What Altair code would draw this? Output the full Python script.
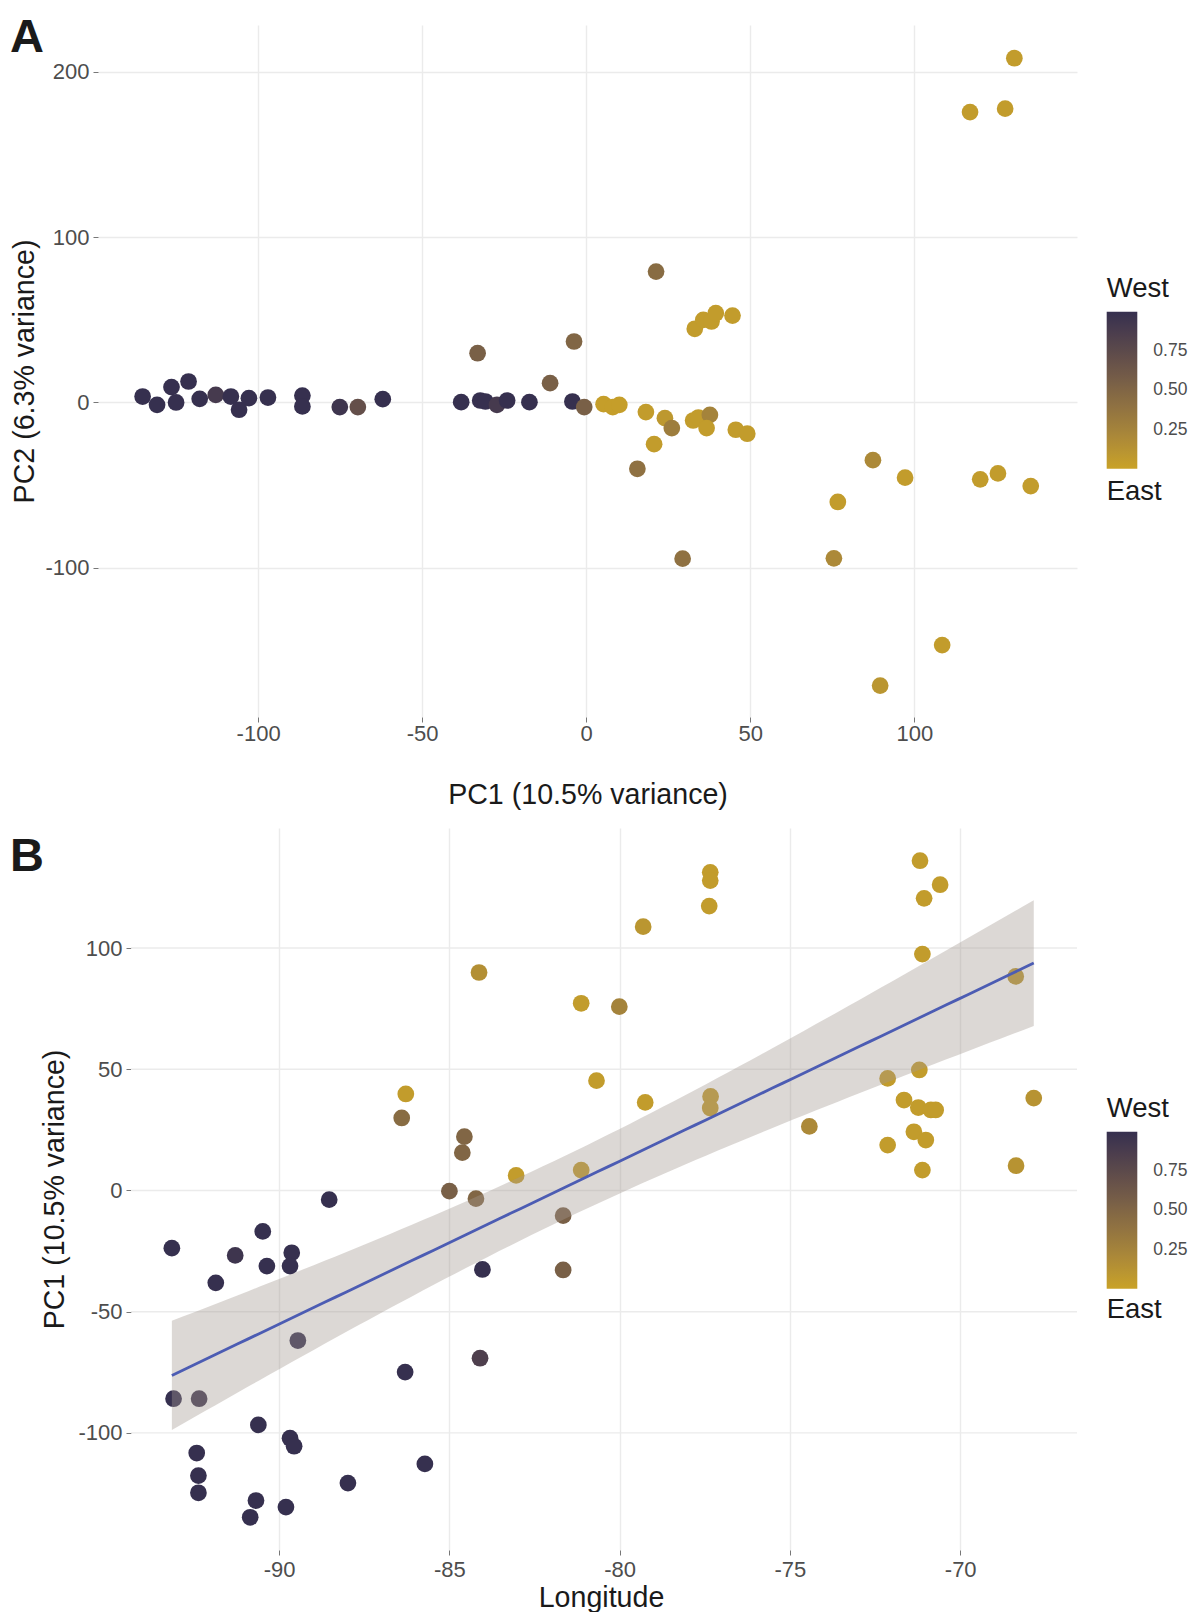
import altair as alt
import pandas as pd
import numpy as np

# ---------------- Panel A data (PCA) ----------------
pc1_a = [-135.2, -130.8, -126.4, -125.0, -121.2, -117.8, -112.9, -108.3, -105.8, -102.8,
         -97.0, -86.5, -86.5, -75.1, -69.6, -62.0,
         -38.1, -33.1, -32.3, -30.7, -27.2, -24.1, -17.3, -11.0, -3.7, -4.2, -0.6,
         5.3, 8.1, 10.1, 18.2, 24.0, 26.1, 20.7, 15.6, 32.6, 34.2, 37.7, 36.7, 45.6, 49.1, 29.4, 21.3,
         33.1, 35.7, 38.2, 39.5, 44.6,
         130.5, 117.0, 127.7, 87.4, 97.2, 120.1, 125.5, 135.5, 76.7, 75.5, 108.5, 89.6]
pc2_a = [3.6, -1.4, 9.3, 0.0, 12.7, 2.2, 4.6, 3.6, -4.4, 2.6,
         3.0, 4.2, -2.4, -2.8, -2.8, 2.0,
         0.2, 29.8, 1.2, 0.6, -1.4, 1.2, 0.2, 11.7, 36.9, 0.6, -2.8,
         -1.0, -2.8, -1.4, -5.8, -9.5, -15.5, -25.2, -40.1, -10.9, -9.1, -7.5, -15.5, -16.5, -18.9, -94.5, 79.2,
         44.6, 50.0, 49.0, 54.0, 52.6,
         208.3, 175.7, 177.8, -34.9, -45.5, -46.5, -42.9, -50.6, -60.2, -94.3, -146.8, -171.3]
west_a = [1, 1, 1, 1, 1, 1, 0.9, 1, 1, 1,
          1, 1, 1, 0.95, 0.7, 1,
          1, 0.55, 1, 1, 0.9, 1, 1, 0.55, 0.5, 1, 0.55,
          0.03, 0.03, 0.03, 0.05, 0.08, 0.3, 0.05, 0.4, 0.05, 0.05, 0.25, 0.05, 0.05, 0.05, 0.4, 0.45,
          0.05, 0.05, 0.05, 0.05, 0.05,
          0.05, 0.05, 0.05, 0.2, 0.05, 0.05, 0.05, 0.05, 0.05, 0.2, 0.05, 0.1]

# ---------------- Panel B data (PC1 vs longitude) ----------------
lon_b = [-93.15, -90.48, -91.29, -90.36, -89.63, -89.68, -91.86, -88.53, -89.45, -86.30,
         -84.10, -84.03, -85.00, -84.22, -84.62, -83.04, -93.10, -92.35, -90.61, -89.68,
         -89.56, -92.42, -92.37, -92.37, -90.68, -90.85, -89.80, -87.98, -85.72,
         -84.13, -86.28, -86.40, -84.56, -81.13, -80.01, -79.31, -80.68, -79.25, -81.13,
         -81.66, -81.66, -77.34, -77.34, -77.37, -77.33, -77.34,
         -71.18, -70.59, -71.06, -71.11, -68.37, -74.43, -72.13, -71.20, -71.65, -71.23,
         -70.86, -70.72, -71.36, -71.01, -72.13, -71.11, -67.84, -68.36]
pc1_b = [-23.8, -16.9, -26.8, -31.2, -25.7, -31.2, -38.1, -3.8, -61.9, -74.9,
         -69.2, -32.6, -0.3, -3.4, 15.6, 6.2, -85.9, -85.9, -96.7, -102.2,
         -105.5, -108.3, -117.6, -124.7, -127.9, -134.8, -130.6, -120.7, -112.8,
         89.9, 39.8, 29.9, 22.2, 77.2, 75.8, 108.8, 45.3, 36.3, 8.4,
         -10.4, -32.8, 131.2, 127.8, 117.3, 38.8, 34.0,
         136.0, 126.1, 120.5, 97.5, 88.3, 26.4, 46.2, 49.7, 37.3, 34.2,
         33.2, 33.2, 24.2, 20.8, 18.7, 8.4, 38.1, 10.2]
west_b = [1, 1, 0.95, 1, 1, 1, 1, 1, 1, 1,
          0.85, 1, 0.55, 0.5, 0.5, 0.05, 1, 0.95, 1, 1,
          1, 1, 1, 1, 1, 1, 1, 1, 1,
          0.15, 0.05, 0.45, 0.5, 0.05, 0.25, 0.1, 0.05, 0.05, 0.05,
          0.55, 0.55, 0.05, 0.05, 0.05, 0.05, 0.05,
          0.05, 0.05, 0.05, 0.05, 0.1, 0.2, 0.05, 0.05, 0.05, 0.05,
          0.05, 0.05, 0.05, 0.05, 0.05, 0.05, 0.12, 0.12]

ticks_a_x = [-100, -50, 0, 50, 100]
ticks_a_y = [-100, 0, 100, 200]
ticks_b_x = [-90, -85, -80, -75, -70]
ticks_b_y = [-100, -50, 0, 50, 100]
legend_values = [0.25, 0.5, 0.75]

df_a = pd.DataFrame({"pc1": pc1_a, "pc2": pc2_a, "west": west_a})
df_b = pd.DataFrame({"lon": lon_b, "pc1": pc1_b, "west": west_b})
df_bgrid = pd.DataFrame({"v": ticks_b_y})

# linear fit + 95% confidence band (derived from the data)
x = np.array(lon_b)
y = np.array(pc1_b)
n = len(x)
slope, intercept = np.polyfit(x, y, 1)
resid = y - (slope * x + intercept)
s = np.sqrt(np.sum(resid ** 2) / (n - 2))
sxx = np.sum((x - x.mean()) ** 2)
tval = 1.999
grid = np.linspace(x.min(), x.max(), 80)
fit = slope * grid + intercept
se = s * np.sqrt(1.0 / n + (grid - x.mean()) ** 2 / sxx)
df_fit = pd.DataFrame({"lon": grid, "fit": fit, "lo": fit - tval * se, "hi": fit + tval * se})

GOLD = "#c9a227"
NAVY = "#36304f"
FONT = "Liberation Sans"
GRID = "#ebebeb"

W = 979            # both panels share the plot origin; panel B is inset on the left
B_INSET = 33
A_H, B_H = 692, 722
TOP_PAD = 5


def axis(values, title, grid=True, **kw):
    return alt.Axis(values=values, title=title, labelExpr="'' + datum.value",
                    labelFont=FONT, labelFontSize=22, labelColor="#4d4d4d",
                    titleFont=FONT, titleFontSize=28.6, titleColor="#1a1a1a",
                    titleFontWeight="normal", domain=False, ticks=True,
                    tickColor="#777777", tickSize=5, tickWidth=1,
                    grid=grid, gridColor=GRID, gridWidth=1.4, **kw)


def legend(lx, ly):
    return alt.Legend(title="West", orient="none", legendX=lx, legendY=ly,
                      direction="vertical", gradientLength=157, gradientThickness=30.6,
                      gradientStrokeWidth=0, values=legend_values, format=".2f",
                      labelOffset=16, labelFont=FONT, labelFontSize=17.5,
                      labelColor="#4d4d4d", titleFont=FONT, titleFontSize=27.5,
                      titleFontWeight="normal", titleColor="#1a1a1a", titlePadding=9.6,
                      padding=0, labelOverlap=False)


def color(lx, ly):
    return alt.Color("west:Q",
                     scale=alt.Scale(domain=[0, 1], range=[GOLD, NAVY], interpolate="lab"),
                     legend=legend(lx, ly))


def label_text(txt, xv, yv, size, bold=False, baseline="top"):
    return alt.Chart(pd.DataFrame({"t": [txt]})).mark_text(
        align="left", baseline=baseline, font=FONT, fontSize=size,
        fontWeight="bold" if bold else "normal", color="#1a1a1a"
    ).encode(text="t:N", x=alt.value(xv), y=alt.value(yv))


# ---------------- Panel A ----------------
pts_a = alt.Chart(df_a).mark_circle(size=280, opacity=1).encode(
    x=alt.X("pc1:Q", scale=alt.Scale(domain=[-148.8, 149.6], nice=False, zero=False),
            axis=axis(ticks_a_x, "PC1 (10.5% variance)", labelPadding=1.5,
                      titleX=W / 2, titleY=86, titleBaseline="alphabetic")),
    y=alt.Y("pc2:Q", scale=alt.Scale(domain=[-190.3, 228.4], nice=False, zero=False),
            axis=axis(ticks_a_y, "PC2 (6.3% variance)", labelPadding=4,
                      titleX=-74, titleY=A_H / 2, titleBaseline="middle")),
    color=color(1008.7, 249.7),
)
chart_a = alt.layer(
    pts_a,
    label_text("A", -88, TOP_PAD - 15.3, 47, bold=True),
    label_text("East", 1008.7, 474.7, 27.5, baseline="alphabetic"),
).properties(width=W, height=A_H)

# ---------------- Panel B ----------------
xb_scale = alt.Scale(domain=[-94.35, -66.57], range=[B_INSET, W], nice=False, zero=False)
yb_scale = alt.Scale(domain=[-148.3, 149.5], nice=False, zero=False)

hgrid_b = alt.Chart(df_bgrid).mark_rule(color=GRID, strokeWidth=1.4).encode(
    y=alt.Y("v:Q", scale=yb_scale), x=alt.value(B_INSET), x2=alt.value(W))
pts_b = alt.Chart(df_b).mark_circle(size=280, opacity=1).encode(
    x=alt.X("lon:Q", scale=xb_scale,
            axis=axis(ticks_b_x, "Longitude", labelPadding=4.5,
                      titleX=B_INSET + (W - B_INSET) / 2 - 3,
                      titleY=56, titleBaseline="alphabetic")),
    y=alt.Y("pc1:Q", scale=yb_scale,
            axis=axis(ticks_b_y, "PC1 (10.5% variance)", grid=False, offset=-B_INSET,
                      labelPadding=4, titleX=-77, titleY=B_H / 2, titleBaseline="middle")),
    color=color(1008.7, 266.7),
)
band_b = alt.Chart(df_fit).mark_area(color="#a39890", opacity=0.38).encode(
    x=alt.X("lon:Q", scale=xb_scale), y=alt.Y("lo:Q", scale=yb_scale), y2="hi:Q")
line_b = alt.Chart(df_fit).mark_line(color="#4c5cb3", strokeWidth=2.8).encode(
    x=alt.X("lon:Q", scale=xb_scale), y=alt.Y("fit:Q", scale=yb_scale))
chart_b = alt.layer(
    hgrid_b, pts_b, band_b, line_b,
    label_text("B", -88, 6.3, 47, bold=True),
    label_text("East", 1008.7, 490, 27.5, baseline="alphabetic"),
).properties(width=W, height=B_H)

chart = alt.vconcat(chart_a, chart_b, spacing=19).resolve_scale(
    color="independent").properties(
    padding={"left": 2, "top": TOP_PAD, "right": 0, "bottom": 0}).configure_view(stroke=None)

chart.save("out.html", embed_options={"renderer": "svg", "actions": False})
